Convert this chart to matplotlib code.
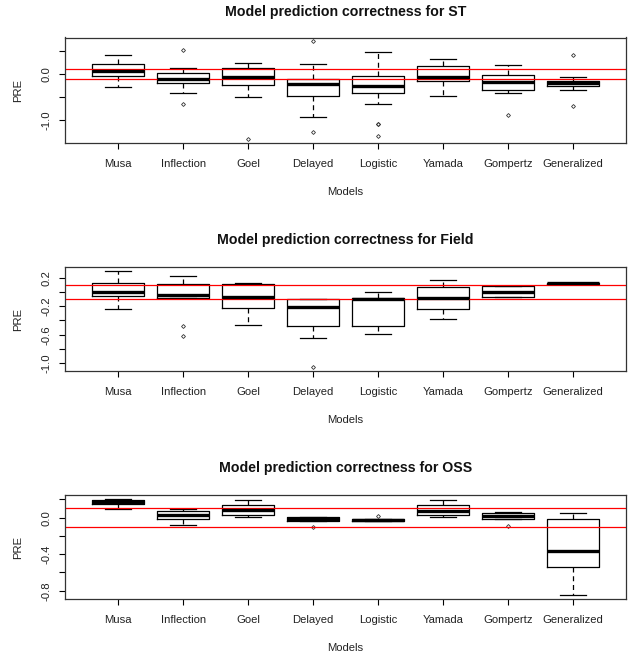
import matplotlib
matplotlib.use("Agg")
import matplotlib.pyplot as plt

plt.rcParams['font.family'] = ['Liberation Sans', 'DejaVu Sans']

models = ["Musa", "Inflection", "Goel", "Delayed", "Logistic", "Yamada", "Gompertz", "Generalized"]

# ---- ST ----
st_whislo = [-0.28, -0.42, -0.49, -0.94, -0.65, -0.47, -0.42, -0.35]
st_q1     = [-0.04, -0.19, -0.23, -0.47, -0.42, -0.16, -0.34, -0.26]
st_med    = [0.06, -0.10, -0.06, -0.21, -0.26, -0.06, -0.18, -0.20]
st_q3     = [0.21, 0.02, 0.12, -0.10, -0.05, 0.17, -0.02, -0.16]
st_whishi = [0.40, 0.12, 0.23, 0.22, 0.47, 0.33, 0.20, -0.07]
st_fliers = [[], [0.52, -0.65], [-1.40], [0.70, -1.25], [-1.08, -1.09, -1.33], [], [-0.89], [0.40, -0.70]]

# ---- Field ----
fd_whislo = [-0.245, -0.087, -0.467, -0.648, -0.588, -0.379, -0.073, 0.11]
fd_q1     = [-0.055, -0.087, -0.226, -0.481, -0.481, -0.245, -0.073, 0.11]
fd_med    = [0.00, -0.036, -0.069, -0.212, -0.092, -0.078, 0.005, 0.12]
fd_q3     = [0.126, 0.112, 0.107, -0.101, -0.083, 0.066, 0.089, 0.13]
fd_whishi = [0.293, 0.228, 0.121, -0.101, 0.005, 0.172, 0.089, 0.13]
fd_fliers = [[], [-0.477, -0.611], [], [-1.051], [], [], [], []]

# ---- OSS ----
os_whislo = [0.098, -0.076, 0.004, -0.033, -0.033, 0.004, -0.011, -0.851]
os_q1     = [0.150, -0.011, 0.025, -0.033, -0.033, 0.025, -0.011, -0.535]
os_med    = [0.172, 0.033, 0.084, -0.018, -0.022, 0.076, 0.018, -0.367]
os_q3     = [0.196, 0.073, 0.135, 0.011, -0.011, 0.135, 0.051, -0.011]
os_whishi = [0.205, 0.098, 0.189, 0.011, -0.011, 0.189, 0.062, 0.051]
os_fliers = [[], [], [], [-0.102], [0.018], [], [-0.087], []]

ref_lines = [0.1, -0.1]

panels = [
    ("Model prediction correctness for ST", st_whislo, st_q1, st_med, st_q3, st_whishi, st_fliers,
     [-1.0, -0.5, 0.0, 0.5], ["-1.0", "", "0.0", ""]),
    ("Model prediction correctness for Field", fd_whislo, fd_q1, fd_med, fd_q3, fd_whishi, fd_fliers,
     [-1.0, -0.8, -0.6, -0.4, -0.2, 0.0, 0.2], ["-1.0", "", "-0.6", "", "-0.2", "", "0.2"]),
    ("Model prediction correctness for OSS", os_whislo, os_q1, os_med, os_q3, os_whishi, os_fliers,
     [-0.8, -0.6, -0.4, -0.2, 0.0, 0.2], ["-0.8", "", "-0.4", "", "0.0", ""]),
]

W, H = 629, 657
fig = plt.figure(figsize=(W / 100, H / 100), dpi=100)

# pixel layout: (axes top, axes bottom, title y)
layout = [(37.5, 142.7, 12), (267.3, 370.7, 240), (495.0, 599.3, 468)]
left_px, right_px = 65, 626
FS = 8.1

for (title, wlo, q1, med, q3, whi, fl, yt, ytl), (top, bot, ty) in zip(panels, layout):
    ax = fig.add_axes([left_px / W, 1 - bot / H, (right_px - left_px) / W, (bot - top) / H])
    stats = []
    for i in range(len(models)):
        stats.append(dict(label=models[i], whislo=wlo[i], q1=q1[i], med=med[i],
                          q3=q3[i], whishi=whi[i], fliers=fl[i]))
    ax.bxp(stats, positions=range(1, len(models) + 1), widths=0.8,
           boxprops=dict(color="black", linewidth=0.9),
           medianprops=dict(color="black", linewidth=2.4, solid_capstyle="butt"),
           whiskerprops=dict(color="black", linewidth=0.9, linestyle=(0, (4, 3))),
           capprops=dict(color="black", linewidth=0.9),
           capwidths=0.4,
           flierprops=dict(marker="D", markersize=2.0, markerfacecolor="none",
                           markeredgecolor="#333333", markeredgewidth=0.6))
    for r in ref_lines:
        ax.axhline(r, color="red", linewidth=0.9)
    allv = wlo + whi + [v for f in fl for v in f]
    lo, hi = min(allv), max(allv)
    pad = 0.04 * (hi - lo)
    ax.set_ylim(lo - pad, hi + pad)
    ax.set_xlim(0.18, 8.82)
    ax.set_yticks(yt)
    ax.set_yticklabels(ytl, rotation=90, va="center")
    ax.set_xticks(range(1, len(models) + 1))
    ax.set_xticklabels(models)
    ax.tick_params(axis="both", direction="out", length=4.5, width=0.8, labelsize=FS,
                   color="black", labelcolor="#222222")
    ax.tick_params(axis="x", pad=7)
    ax.tick_params(axis="y", pad=5)
    for s in ax.spines.values():
        s.set_linewidth(0.9)
        s.set_color("#333333")
    ax.set_xlabel("Models", fontsize=FS, color="#222222")
    ax.xaxis.label.set_va("center")
    ax.xaxis.set_label_coords(0.5, -49 / (bot - top))
    ax.set_ylabel("PRE", fontsize=FS, color="#222222")
    ax.yaxis.label.set_va("center")
    ax.yaxis.set_label_coords(-47 / (right_px - left_px), 0.5)
    fig.text((left_px + right_px) / 2 / W, 1 - ty / H, title, ha="center", va="center",
             fontsize=10.2, fontweight="bold", color="#111111")

fig.savefig("out.png", dpi=100, facecolor="white")
